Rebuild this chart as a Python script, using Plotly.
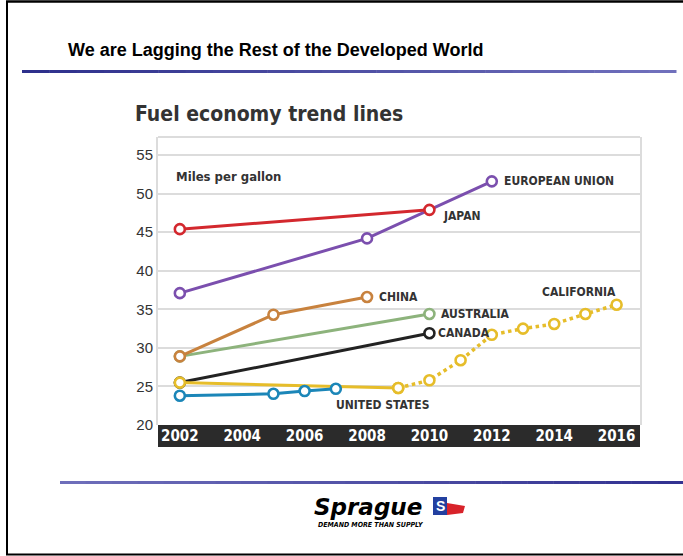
import plotly.graph_objects as go

# ---- data (miles per gallon by model year) ----
japan_years = [2002, 2010]
japan_mpg = [45.4, 47.9]

eu_years = [2002, 2008, 2012]
eu_mpg = [37.1, 44.2, 51.6]

china_years = [2002, 2005, 2008]
china_mpg = [28.9, 34.3, 36.6]

australia_years = [2002, 2010]
australia_mpg = [28.9, 34.4]

canada_years = [2002, 2010]
canada_mpg = [25.5, 31.9]

us_years = [2002, 2005, 2006, 2007]
us_mpg = [23.8, 24.05, 24.4, 24.7]

calif_solid_years = [2002, 2009]
calif_solid_mpg = [25.5, 24.8]
calif_dotted_years = [2009, 2010, 2011, 2012, 2013, 2014, 2015, 2016]
calif_dotted_mpg = [24.8, 25.8, 28.4, 31.7, 32.5, 33.1, 34.4, 35.6]

x_ticks = [2002, 2004, 2006, 2008, 2010, 2012, 2014, 2016]
y_ticks = [20, 25, 30, 35, 40, 45, 50, 55]

# ---- page geometry ----
W_PX, H_PX = 683, 556
M_L, M_R, M_T, M_B = 158, 43, 137, 131
PW = W_PX - M_L - M_R
PH = H_PX - M_T - M_B


def px(x):
    return (x - M_L) / PW


def py(y):
    return (H_PX - M_B - y) / PH


COND = "Liberation Sans Narrow, DejaVu Sans Condensed, Arial Narrow, sans-serif"
LABEL_COLOR = "#333333"

fig = go.Figure()


def series(xs, ys, color, dash="solid", markers=True, width=3):
    fig.add_trace(go.Scatter(
        x=xs, y=ys,
        mode="lines+markers" if markers else "lines",
        line=dict(color=color, width=width, dash=dash),
        marker=dict(size=10, color="white", line=dict(color=color, width=2.6)),
        hoverinfo="x+y", showlegend=False,
    ))


series(canada_years, canada_mpg, "#222222")
series(australia_years, australia_mpg, "#8db37c")
series(china_years, china_mpg, "#c8823e")
series(eu_years, eu_mpg, "#7b4fae")
series(japan_years, japan_mpg, "#d3282e")
series(calif_dotted_years, calif_dotted_mpg, "#e6bd2a", dash="dot", markers=False, width=3.5)
series(calif_solid_years, calif_solid_mpg, "#e6bd2a", markers=False)
series(calif_dotted_years, calif_dotted_mpg, "#e6bd2a", markers=True, width=0)
series(calif_solid_years, calif_solid_mpg, "#e6bd2a", width=0)
series(us_years, us_mpg, "#1b86b8")


# ---- series labels ----
def label(x, y, text, xanchor="left", xshift=10, yshift=0, size=12):
    fig.add_annotation(x=x, y=y, text=f"<b>{text}</b>", showarrow=False,
                       xanchor=xanchor, yanchor="middle", xshift=xshift, yshift=yshift,
                       font=dict(family=COND, size=size, color=LABEL_COLOR))


label(eu_years[-1], eu_mpg[-1], "EUROPEAN UNION")
label(japan_years[-1], japan_mpg[-1], "JAPAN", xshift=12, yshift=-6)
label(china_years[-1], china_mpg[-1], "CHINA")
label(australia_years[-1], australia_mpg[-1], "AUSTRALIA")
label(canada_years[-1], canada_mpg[-1], "CANADA", xshift=7)
label(calif_dotted_years[-1], calif_dotted_mpg[-1], "CALIFORNIA", xanchor="right", xshift=1, yshift=13)
label(calif_solid_years[-1], calif_solid_mpg[-1], "UNITED STATES", xshift=-64, yshift=-17)
label(2002, 52.2, "Miles per gallon", xshift=-6, size=13)

# ---- page text ----
fig.add_annotation(xref="paper", yref="paper", x=px(66), y=py(50),
                   xanchor="left", yanchor="middle", showarrow=False,
                   text="<b>We are Lagging the Rest of the Developed World</b>",
                   font=dict(family="Arial, Liberation Sans, sans-serif", size=18, color="#000000"))
fig.add_annotation(xref="paper", yref="paper", x=px(133), y=py(114),
                   xanchor="left", yanchor="middle", showarrow=False,
                   text="<b>Fuel economy trend lines</b>",
                   font=dict(family=COND, size=21, color="#333333"))

# logo
fig.add_annotation(xref="paper", yref="paper", x=px(368), y=py(507),
                   xanchor="center", yanchor="middle", showarrow=False,
                   text="<b><i>Sprague</i></b>", borderpad=0,
                   font=dict(family="DejaVu Sans, sans-serif", size=23, color="#000000"))
fig.add_annotation(xref="paper", yref="paper", x=px(371), y=py(525), borderpad=0,
                   xanchor="center", yanchor="middle", showarrow=False,
                   text="<b><i>DEMAND MORE THAN SUPPLY</i></b>",
                   font=dict(family=COND, size=7, color="#000000"))
fig.add_annotation(xref="paper", yref="paper", x=px(440), y=py(506), borderpad=0,
                   xanchor="center", yanchor="middle", showarrow=False,
                   text="<b>S</b>",
                   font=dict(family="Arial, sans-serif", size=14, color="#ffffff"))

shapes = []
# dark axis band under the plot
shapes.append(dict(type="rect", xref="paper", yref="paper", layer="below",
                   x0=0, x1=1, y0=py(447), y1=0,
                   fillcolor="#2b2b2b", line=dict(width=0)))

# page frame
shapes.append(dict(type="line", xref="paper", yref="paper", x0=px(7), x1=px(7), y0=py(1), y1=py(555),
                   line=dict(color="#000000", width=2)))
shapes.append(dict(type="line", xref="paper", yref="paper", x0=px(6), x1=px(683), y0=py(1.5), y1=py(1.5),
                   line=dict(color="#000000", width=2.5)))
shapes.append(dict(type="line", xref="paper", yref="paper", x0=px(6), x1=px(683), y0=py(554.5), y1=py(554.5),
                   line=dict(color="#000000", width=2)))


def rule(x0, x1, y, c0, c1, n=24):
    step = (x1 - x0) / n
    for i in range(n):
        t = i / (n - 1)
        col = "rgb({},{},{})".format(*[round(a + (b - a) * t) for a, b in zip(c0, c1)])
        shapes.append(dict(type="line", xref="paper", yref="paper",
                           x0=px(x0 + i * step), x1=px(x0 + (i + 1) * step + 0.5),
                           y0=py(y), y1=py(y), line=dict(color=col, width=3)))


rule(22, 676, 71.5, (46, 48, 140), (112, 112, 188))
rule(60, 683, 482.5, (110, 110, 186), (50, 50, 145))

# logo flag
shapes.append(dict(type="rect", xref="paper", yref="paper",
                   x0=px(433), x1=px(447), y0=py(515), y1=py(497),
                   fillcolor="#2340a0", line=dict(width=0)))
shapes.append(dict(type="path", xref="paper", yref="paper",
                   path=f"M {px(447)} {py(503)} L {px(465)} {py(506)} L {px(463)} {py(513)} L {px(447)} {py(515)} Z",
                   fillcolor="#d8232a", line=dict(width=0)))

fig.update_layout(
    width=W_PX, height=H_PX,
    margin=dict(l=M_L, r=M_R, t=M_T, b=M_B),
    paper_bgcolor="white", plot_bgcolor="white",
    shapes=shapes,
    xaxis=dict(range=[2001.3, 2016.75], tickvals=x_ticks,
               ticktext=[f"<b>{v}</b>" for v in x_ticks],
               showgrid=False, zeroline=False, showline=False, ticks="",
               tickfont=dict(family=COND, size=15, color="white")),
    yaxis=dict(range=[20, 57.35], tickvals=y_ticks, showgrid=True,
               gridcolor="#dcdcdc", gridwidth=2, zeroline=False,
               showline=True, linecolor="#dcdcdc", linewidth=2, mirror=True,
               ticks="", tickfont=dict(family="Arial, Liberation Sans, sans-serif", size=15, color="#333333")),
)
# top border of the plot frame
fig.add_shape(type="line", xref="paper", yref="paper", x0=0, x1=1, y0=1, y1=1,
              line=dict(color="#dcdcdc", width=2))

fig.write_html("out.html")
